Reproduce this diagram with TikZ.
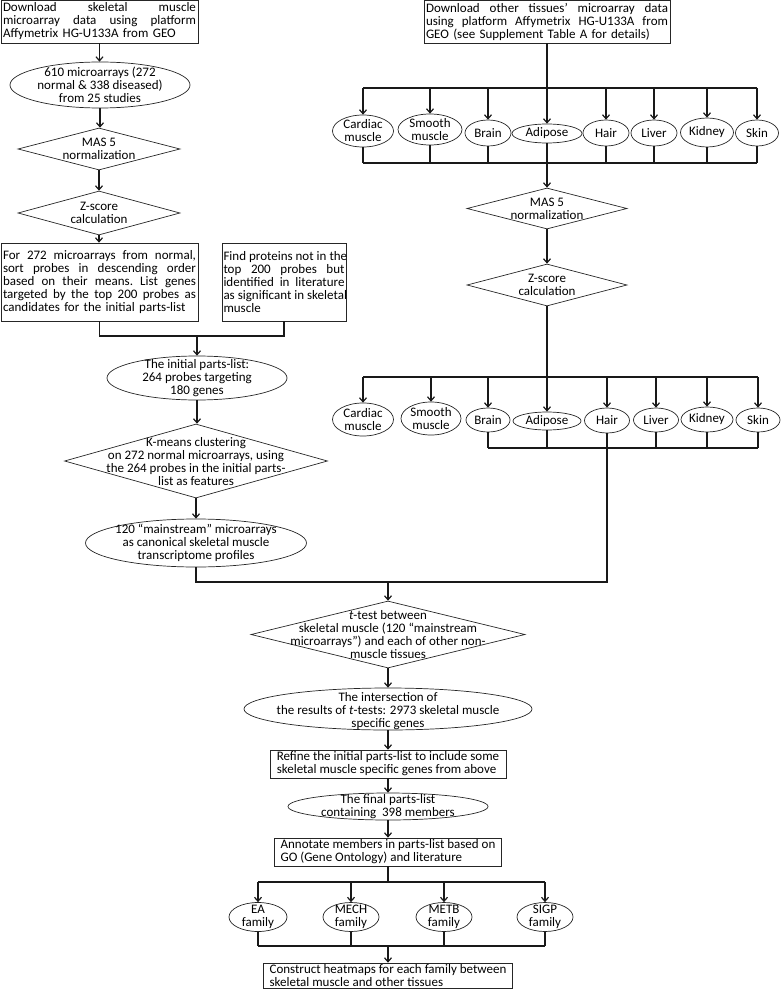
\documentclass[tikz,border=0pt]{standalone}
\usepackage{fontspec}
\setmainfont{Carlito}
\usetikzlibrary{shapes.geometric,arrows.meta}
\newcommand\jl[2]{\leavevmode\hbox to #1pt{\spaceskip=3pt plus 1fil\relax\xspaceskip=3pt plus 1fil\relax #2}\\}
\begin{document}
\begin{tikzpicture}[x=1pt,y=-1pt,
  font=\fontsize{13}{13}\selectfont,
  shp/.style={draw=black!85,line width=0.7pt,inner sep=0pt},
  rbox/.style={shp,rectangle,inner xsep=2pt,inner ysep=1pt,align=left},
  ell/.style={shp,ellipse},
  dia/.style={shp,diamond},
  txt/.style={align=center,inner sep=0pt},
  con/.style={line width=1.2pt,draw=black!90},
  arr/.style={con,-{Straight Barb[length=4pt,width=7pt]}},
]
\useasboundingbox (0,0) rectangle (781,992);

% ---------------- left column ----------------
\node[rbox,text width=193pt,minimum height=43pt] (b1) at (99.5,21.5)
  {\jl{193}{Download skeletal muscle}\jl{193}{microarray data using platform}Affymetrix HG-U133A from GEO};
\node[ell,minimum width=180pt,minimum height=46pt] (e1) at (100,85) {};
\node[txt] at (e1) {610 microarrays (272\\normal \& 338 diseased)\\from 25 studies};
\node[dia,minimum width=162pt,minimum height=42pt] (d1) at (99,149) {};
\node[txt] at (d1) {MAS 5\\normalization};
\node[dia,minimum width=162pt,minimum height=44pt] (d2) at (99,213) {};
\node[txt] at (d2) {Z-score\\calculation};
\node[rbox,text width=193pt,minimum height=78pt] (bL) at (99.5,282)
  {\jl{193}{For 272 microarrays from normal,}\jl{193}{sort probes in descending order}\jl{193}{based on their means. List genes}\jl{193}{targeted by the top 200 probes as}candidates for the initial parts-list};
\node[rbox,inner xsep=1.5pt,text width=121pt,minimum height=78pt] (bR) at (284,282)
  {\jl{121}{Find proteins not in the}\jl{121}{top 200 probes but}\jl{121}{identified in literature}\jl{121}{as significant in skeletal}muscle};
\coordinate (m1) at (197,336);
\node[ell,minimum width=180pt,minimum height=44pt] (e2) at (197,378) {};
\node[txt] at (e2) {The initial parts-list:\\264 probes targeting\\180 genes};
\node[dia,minimum width=263pt,minimum height=74pt] (d3) at (196,461) {};
\node[txt] at (196,462) {K-means clustering\\on 272 normal microarrays, using\\the 264 probes in the initial parts-\\list as features};
\node[ell,minimum width=221pt,minimum height=48pt] (e3) at (196,543) {};
\node[txt] at (e3) {120 “mainstream” microarrays\\as canonical skeletal muscle\\transcriptome profiles};

% ---------------- right column ----------------
\node[rbox,text width=242pt,minimum height=43pt] (bT) at (547,21.5)
  {\jl{242}{Download other tissues’ microarray data}\jl{242}{using platform Affymetrix HG-U133A from}GEO (see Supplement Table A for details)};
\coordinate (h1) at (0,88);
\coordinate (h2) at (0,163);
\node[ell,minimum width=61pt,minimum height=32pt] (ca1) at (363,131) {};
\node[txt] at (ca1) {Cardiac\\muscle};
\node[ell,minimum width=64pt,minimum height=31pt] (sm1) at (430,129.5) {};
\node[txt] at (sm1) {Smooth\\muscle};
\node[ell,minimum width=46pt,minimum height=26pt] (br1) at (488,133) {};
\node[txt] at (br1) {Brain};
\node[ell,minimum width=70pt,minimum height=19pt] (ad1) at (547,133.5) {};
\node[txt] at (ad1) {Adipose};
\node[ell,minimum width=46pt,minimum height=26pt] (ha1) at (606,133) {};
\node[txt] at (ha1) {Hair};
\node[ell,minimum width=46pt,minimum height=26pt] (li1) at (654,133) {};
\node[txt] at (li1) {Liver};
\node[ell,minimum width=53pt,minimum height=29pt] (ki1) at (707,132.5) {};
\node[txt] at (ki1) {Kidney};
\node[ell,minimum width=43pt,minimum height=26pt] (sk1) at (757,133) {};
\node[txt] at (sk1) {Skin};

\node[dia,minimum width=160pt,minimum height=41pt] (dr1) at (547,208.5) {};
\node[txt] at (dr1) {MAS 5\\normalization};
\node[dia,minimum width=160pt,minimum height=42pt] (dr2) at (547,285) {};
\node[txt] at (dr2) {Z-score\\calculation};

\coordinate (h3) at (0,377);
\coordinate (h4) at (0,448);
\node[ell,minimum width=61pt,minimum height=33pt] (ca2) at (363,419.5) {};
\node[txt] at (ca2) {Cardiac\\muscle};
\node[ell,minimum width=60pt,minimum height=33pt] (sm2) at (431,418.5) {};
\node[txt] at (sm2) {Smooth\\muscle};
\node[ell,minimum width=44pt,minimum height=24pt] (br2) at (488,420) {};
\node[txt] at (br2) {Brain};
\node[ell,minimum width=68pt,minimum height=18pt] (ad2) at (547,421) {};
\node[txt] at (ad2) {Adipose};
\node[ell,minimum width=45pt,minimum height=25pt] (ha2) at (607,420.5) {};
\node[txt] at (ha2) {Hair};
\node[ell,minimum width=45pt,minimum height=24pt] (li2) at (656,420) {};
\node[txt] at (li2) {Liver};
\node[ell,minimum width=52pt,minimum height=25pt] (ki2) at (707,419.5) {};
\node[txt] at (ki2) {Kidney};
\node[ell,minimum width=44pt,minimum height=24pt] (sk2) at (758,420) {};
\node[txt] at (sk2) {Skin};

% ---------------- bottom column ----------------
\coordinate (m2) at (0,582);
\node[dia,minimum width=274pt,minimum height=67pt] (d4) at (388,634.5) {};
\node[txt] at (d4) {\textit{t}-test between\\skeletal muscle (120 “mainstream\\microarrays”) and each of other non-\\muscle tissues};
\node[ell,minimum width=288pt,minimum height=42pt] (e4) at (388,709) {};
\node[txt] at (388,711) {The intersection of\\the results of \textit{t}-tests: 2973 skeletal muscle\\specific genes};
\node[rbox,minimum width=236pt,minimum height=28pt] (b5) at (388,764)
  {Refine the initial parts-list to include some\\skeletal muscle specific genes from above};
\node[ell,minimum width=200pt,minimum height=27pt] (e5) at (388,806.5) {};
\node[txt] at (e5) {The final parts-list\\containing\ \ 398 members};
\node[rbox,minimum width=227pt,minimum height=28pt] (b6) at (388,852)
  {Annotate members in parts-list based on\\GO (Gene Ontology) and literature};
\coordinate (f1) at (0,882);
\coordinate (f2) at (0,946);
\node[ell,minimum width=58pt,minimum height=29pt] (ea) at (258,917) {};
\node[txt] at (ea) {EA\\family};
\node[ell,minimum width=56pt,minimum height=29pt] (me) at (351,917) {};
\node[txt] at (me) {MECH\\family};
\node[ell,minimum width=56pt,minimum height=29pt] (mt) at (444,917) {};
\node[txt] at (mt) {METB\\family};
\node[ell,minimum width=56pt,minimum height=29pt] (sg) at (545,917) {};
\node[txt] at (sg) {SIGP\\family};
\node[rbox,minimum width=249pt,minimum height=25pt] (b7) at (388,975.5)
  {Construct heatmaps for each family between\\skeletal muscle and other tissues};

% ---------------- connectors: left ----------------
\draw[arr] (b1.south) -- (b1.south |- e1.north);
\draw[arr] (e1.south) -- (e1.south |- d1.north);
\draw[arr] (d1.south) -- (d1.south |- d2.north);
\draw[arr] (d2.south) -- (d2.south |- bL.north);
\draw[con] (bL.south) -- (bL.south |- m1) -- (bR.south |- m1) -- (bR.south);
\draw[arr] (m1) -- (m1 |- e2.north);
\draw[arr] (e2.south) -- (e2.south |- d3.north);
\draw[arr] (d3.south) -- (d3.south |- e3.north);

% ---------------- connectors: right ----------------
\draw[arr] (bT.south) -- (bT.south |- ad1.north);
\draw[con] (ca1.north |- h1) -- (sk1.north |- h1);
\foreach \n in {ca1,sm1,br1,ha1,li1,ki1,sk1}
  \draw[arr] (\n.north |- h1) -- (\n.north);
\draw[con] (ca1.south |- h2) -- (sk1.south |- h2);
\foreach \n in {ca1,sm1,br1,ha1,li1,ki1,sk1}
  \draw[con] (\n.south) -- (\n.south |- h2);
\draw[arr] (ad1.south) -- (ad1.south |- dr1.north);
\draw[arr] (dr1.south) -- (dr1.south |- dr2.north);
\draw[arr] (dr2.south) -- (dr2.south |- ad2.north);
\draw[con] (ca2.north |- h3) -- (sk2.north |- h3);
\foreach \n in {ca2,sm2,br2,ha2,li2,ki2,sk2}
  \draw[arr] (\n.north |- h3) -- (\n.north);
\draw[con] (br2.south |- h4) -- (sk2.south |- h4);
\foreach \n in {br2,ad2,li2,ki2,sk2}
  \draw[con] (\n.south) -- (\n.south |- h4);

% ---------------- connectors: merge and bottom ----------------
\draw[con] (ha2.south) -- (ha2.south |- m2) -- (e3.south |- m2) -- (e3.south);
\draw[arr] (d4.north |- m2) -- (d4.north);
\draw[arr] (d4.south) -- (d4.south |- e4.north);
\draw[arr] (e4.south) -- (e4.south |- b5.north);
\draw[arr] (b5.south) -- (b5.south |- e5.north);
\draw[arr] (e5.south) -- (e5.south |- b6.north);
\draw[con] (b6.south) -- (b6.south |- f1);
\draw[con] (ea.north |- f1) -- (sg.north |- f1);
\foreach \n in {ea,me,mt,sg}
  \draw[arr] (\n.north |- f1) -- (\n.north);
\foreach \n in {ea,me,mt,sg}
  \draw[con] (\n.south) -- (\n.south |- f2);
\draw[con] (ea.south |- f2) -- (sg.south |- f2);
\draw[arr] (b7.north |- f2) -- (b7.north);
\end{tikzpicture}
\end{document}
